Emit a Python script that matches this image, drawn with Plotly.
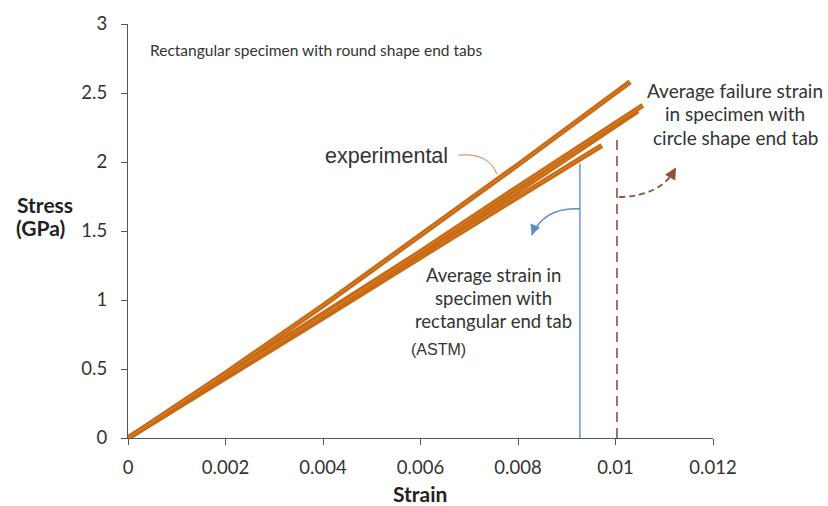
import plotly.graph_objects as go

# ---- data ----
strain_1 = [0, 0.002, 0.004, 0.006, 0.008, 0.0103]
stress_1 = [0, 0.47, 0.96, 1.47, 1.98, 2.58]
strain_2 = [0, 0.002, 0.004, 0.006, 0.008, 0.01056]
stress_2 = [0, 0.45, 0.89, 1.35, 1.82, 2.41]
strain_3 = [0, 0.002, 0.004, 0.006, 0.008, 0.01046]
stress_3 = [0, 0.44, 0.88, 1.33, 1.79, 2.37]
strain_4 = [0, 0.002, 0.004, 0.006, 0.008, 0.00972]
stress_4 = [0, 0.43, 0.87, 1.31, 1.75, 2.12]

rect_tab_strain = 0.00927   # blue solid line (ASTM rectangular tab)
rect_tab_top = 1.99
circ_tab_strain = 0.01003   # dashed line (circle shape tab)
circ_tab_top = 2.20

x_ticks = [0, 0.002, 0.004, 0.006, 0.008, 0.01, 0.012]
x_tick_text = ["0", "0.002", "0.004", "0.006", "0.008", "0.01", "0.012"]
y_ticks = [0, 0.5, 1, 1.5, 2, 2.5, 3]
y_tick_text = ["0", "0.5", "1", "1.5", "2", "2.5", "3"]

# annotation guide curves (start, control, end) in data units
blue_arrow = [(0.00927, 1.66), (0.00855, 1.675), (0.00828, 1.47)]
brown_arrow = [(0.01007, 1.746), (0.01095, 1.753), (0.01124, 1.96)]
exp_leader = [(0.00678, 2.05), (0.00740, 2.07), (0.00757, 1.91)]

ORANGE = "#C96A12"
AX = "#555555"
TXT = "#333333"
FONT = "Lato"

# pixel helpers for placing free text in paper coordinates
PL, PR, PT, PB = 128, 713, 17, 438


def px(xp):
    return (xp - PL) / (PR - PL)


def py(yp):
    return (PB - yp) / (PB - PT)


fig = go.Figure()
for sx, sy in [(strain_4, stress_4), (strain_3, stress_3), (strain_2, stress_2), (strain_1, stress_1)]:
    fig.add_trace(go.Scatter(x=sx, y=sy, mode="lines",
                             line=dict(color=ORANGE, width=5.2), showlegend=False, hoverinfo="skip"))
    fig.add_trace(go.Scatter(x=sx, y=sy, mode="lines",
                             line=dict(color="#E8A060", width=0.8), showlegend=False, hoverinfo="skip",
                             opacity=0.6))

fig.add_trace(go.Scatter(x=[rect_tab_strain, rect_tab_strain], y=[0, rect_tab_top], mode="lines",
                         line=dict(color="#6A9FD4", width=1.6), showlegend=False))
fig.add_trace(go.Scatter(x=[circ_tab_strain, circ_tab_strain], y=[0, circ_tab_top], mode="lines",
                         line=dict(color="#8E5236", width=1.6, dash="10px,6px"), showlegend=False))


def qpath(pts):
    (x0, y0), (x1, y1), (x2, y2) = pts
    return f"M {x0},{y0} Q {x1},{y1} {x2},{y2}"


fig.add_shape(type="path", xref="x", yref="y", path=qpath(blue_arrow),
              line=dict(color="#5B8FCC", width=1.6))
fig.add_shape(type="path", xref="x", yref="y", path=qpath(brown_arrow),
              line=dict(color="#8E5236", width=1.8, dash="6px,4px"))
fig.add_shape(type="path", xref="x", yref="y", path=qpath(exp_leader),
              line=dict(color="#D0803A", width=1))

# arrowheads
fig.add_annotation(x=blue_arrow[2][0], y=blue_arrow[2][1], ax=3, ay=-8, text="", showarrow=True,
                   arrowhead=2, arrowsize=1.3, arrowwidth=1.6, arrowcolor="#5B8FCC", xref="x", yref="y")
fig.add_annotation(x=brown_arrow[2][0], y=brown_arrow[2][1], ax=-4, ay=7, text="", showarrow=True,
                   arrowhead=2, arrowsize=1.3, arrowwidth=1.8, arrowcolor="#8E5236", xref="x", yref="y")

# texts
fig.add_annotation(x=px(148), y=py(43), text="Rectangular specimen with round shape end tabs",
                   showarrow=False, xanchor="left", yanchor="middle", xref="paper", yref="paper",
                   font=dict(family=FONT, size=15.5, color=TXT))
fig.add_annotation(x=px(323), y=py(151), text="experimental", showarrow=False, xanchor="left",
                   yanchor="middle", xref="paper", yref="paper",
                   font=dict(family="Liberation Sans", size=21.5, color=TXT))

for i, line in enumerate(["Average failure strain", "in specimen with", "circle shape end tab"]):
    fig.add_annotation(x=px(735), y=py(85 + 23.5 * i), text=line, showarrow=False,
                       xanchor="center", yanchor="middle", xref="paper", yref="paper",
                       font=dict(family=FONT, size=19, color=TXT))
for i, line in enumerate(["Average strain in", "specimen with", "rectangular end tab"]):
    fig.add_annotation(x=px(493), y=py(272 + 23.5 * i), text=line, showarrow=False,
                       xanchor="center", yanchor="middle", xref="paper", yref="paper",
                       font=dict(family=FONT, size=18.5, color=TXT))
fig.add_annotation(x=px(409), y=py(348), text="(ASTM)", showarrow=False,
                   xanchor="left", yanchor="middle", xref="paper", yref="paper",
                   font=dict(family="Liberation Sans", size=16, color=TXT))

fig.add_annotation(x=px(15), y=py(201), text="<b>Stress</b>", showarrow=False, xanchor="left",
                   yanchor="middle", xref="paper", yref="paper",
                   font=dict(family=FONT, size=21, color="#222222"))
fig.add_annotation(x=px(14), y=py(224), text="<b>(GPa)</b>", showarrow=False,
                   xanchor="left", yanchor="middle", xref="paper", yref="paper",
                   font=dict(family=FONT, size=21, color="#222222"))
fig.add_annotation(x=px(420), y=py(494), text="<b>Strain</b>", showarrow=False,
                   xanchor="center", yanchor="middle", xref="paper", yref="paper",
                   font=dict(family=FONT, size=21, color="#222222"))

fig.update_layout(
    width=828, height=506,
    margin=dict(l=PL, r=828 - PR, t=PT, b=506 - PB),
    paper_bgcolor="white", plot_bgcolor="white",
    font=dict(family=FONT, color=TXT),
    xaxis=dict(range=[0, 0.012], tickvals=x_ticks, ticktext=x_tick_text, showgrid=False,
               zeroline=False, showline=True, linecolor=AX, linewidth=1.2, ticks="outside",
               ticklen=6, tickcolor=AX, tickfont=dict(family=FONT, size=18.5, color=TXT),
               ticklabelstandoff=7),
    yaxis=dict(range=[0, 3], tickvals=y_ticks, ticktext=y_tick_text, showgrid=False,
               zeroline=False, showline=True, linecolor=AX, linewidth=1.2, ticks="outside",
               ticklen=6, tickcolor=AX, tickfont=dict(family=FONT, size=18.5, color=TXT),
               ticklabelstandoff=10),
)

fig.write_html("out.html")
